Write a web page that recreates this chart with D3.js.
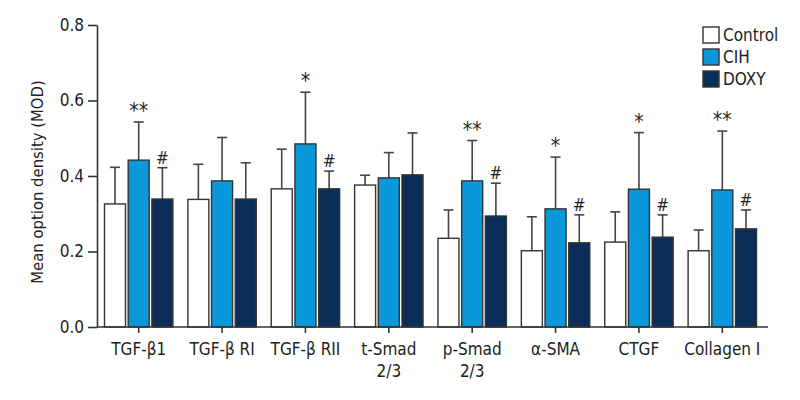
<!DOCTYPE html>
<html>
<head>
<meta charset="utf-8">
<script src="https://cdn.jsdelivr.net/npm/d3@7"></script>
<style>
  html, body { margin: 0; padding: 0; background: #fff; }
  svg text { font-family: "Liberation Sans Narrow", "DejaVu Sans Condensed", "Arial Narrow", sans-serif; fill: #222; }
</style>
</head>
<body>
<svg id="chart" width="800" height="400"></svg>
<script>
// ---- data ----
const categories = ["TGF-β1", "TGF-β RI", "TGF-β RII", "t-Smad\n2/3", "p-Smad\n2/3", "α-SMA", "CTGF", "Collagen I"];
const series = ["Control", "CIH", "DOXY"];
const controlMean = [0.326, 0.338, 0.366, 0.376, 0.235, 0.202, 0.225, 0.202];
const controlErr  = [0.423, 0.431, 0.471, 0.402, 0.310, 0.292, 0.305, 0.257];
const cihMean     = [0.442, 0.387, 0.485, 0.395, 0.387, 0.313, 0.365, 0.363];
const cihErr      = [0.543, 0.502, 0.622, 0.462, 0.494, 0.450, 0.515, 0.519];
const doxyMean    = [0.339, 0.339, 0.366, 0.403, 0.294, 0.223, 0.238, 0.260];
const doxyErr     = [0.422, 0.435, 0.413, 0.514, 0.381, 0.297, 0.297, 0.310];
const cihSig      = ["**", "", "*", "", "**", "*", "*", "**"];
const doxySig     = ["#", "", "#", "", "#", "#", "#", "#"];
const yTicks = [0.0, 0.2, 0.4, 0.6, 0.8];
const yTitle = "Mean option density (MOD)";
const colors = { Control: "#ffffff", CIH: "#0b98da", DOXY: "#0b2e58" };

const means = { Control: controlMean, CIH: cihMean, DOXY: doxyMean };
const errs  = { Control: controlErr,  CIH: cihErr,  DOXY: doxyErr };
const sigs  = { Control: null, CIH: cihSig, DOXY: doxySig };

// ---- layout ----
const svg = d3.select("#chart");
const yBottom = 327, yTop = 25;
const x0 = d3.scaleBand().domain(categories).range([97, 764]).paddingInner(0).paddingOuter(0);
const gc = x0.bandwidth() / 2;
const x1 = d3.scaleBand().domain(series).range([gc - 34.2, gc + 34.2]).paddingInner(0.114).paddingOuter(0);
const y = d3.scaleLinear().domain([0, 0.8]).range([yBottom, yTop]);

const axisColor = "#333";

const flat = [];
categories.forEach((c, i) => series.forEach(s => flat.push({ c, i, s, v: means[s][i], e: errs[s][i], sig: sigs[s] ? sigs[s][i] : "" })));

const gBars = svg.append("g");
const items = gBars.selectAll("g").data(flat).join("g")
  .attr("transform", d => `translate(${x0(d.c) + x1(d.s)},0)`);

// error bars (behind bars)
const bw = x1.bandwidth();
items.append("line")
  .attr("x1", bw / 2).attr("x2", bw / 2)
  .attr("y1", d => y(d.v)).attr("y2", d => y(d.e))
  .attr("stroke", "#444").attr("stroke-width", 1.6);
items.append("line")
  .attr("x1", bw / 2 - 5).attr("x2", bw / 2 + 5)
  .attr("y1", d => y(d.e)).attr("y2", d => y(d.e))
  .attr("stroke", "#444").attr("stroke-width", 1.6);

items.append("rect")
  .attr("x", 0).attr("width", bw)
  .attr("y", d => y(d.v)).attr("height", d => y(0) - y(d.v))
  .attr("fill", d => colors[d.s])
  .attr("stroke", "#333").attr("stroke-width", 1.4);

items.filter(d => d.sig).append("text")
  .attr("x", bw / 2).attr("y", d => y(d.e) - 4)
  .attr("text-anchor", "middle")
  .style("font-size", d => d.sig === "#" ? "17px" : "21px")
  .text(d => d.sig);

// y axis
const yAxis = d3.axisLeft(y).tickValues(yTicks).tickFormat(d3.format(".1f")).tickSize(9).tickSizeOuter(0).tickPadding(4);
const gy = svg.append("g").attr("transform", "translate(97,0)").call(yAxis);
gy.select(".domain").attr("stroke", axisColor).attr("stroke-width", 1.6);
gy.selectAll(".tick line").attr("stroke", axisColor).attr("stroke-width", 1.6);
gy.selectAll(".tick text").style("font-size", "17px").attr("fill", "#222");

// x axis
const xAxis = d3.axisBottom(x0).tickSize(6).tickSizeOuter(0).tickFormat("");
const gx = svg.append("g").attr("transform", `translate(0,${yBottom})`).call(xAxis);
gx.select(".domain").remove();
gx.selectAll(".tick line").attr("stroke", axisColor).attr("stroke-width", 1.6);
svg.append("line").attr("x1", 97).attr("x2", 768).attr("y1", yBottom).attr("y2", yBottom)
  .attr("stroke", axisColor).attr("stroke-width", 1.6);

gx.selectAll(".tick").each(function(d) {
  const t = d3.select(this).append("text")
    .attr("text-anchor", "middle").style("font-size", "17px").attr("fill", "#222");
  d.split("\n").forEach((line, k) => {
    t.append("tspan").attr("x", 0).attr("y", 28 + k * 22).text(line);
  });
});

// y title
svg.append("text")
  .attr("transform", `translate(43,${(yTop + yBottom) / 2 + 6}) rotate(-90)`)
  .attr("text-anchor", "middle")
  .style("font-size", "16.5px")
  .text(yTitle);

// legend
const lg = svg.append("g").attr("transform", "translate(703,27)");
const li = lg.selectAll("g").data(series).join("g")
  .attr("transform", (d, i) => `translate(0,${i * 22})`);
li.append("rect").attr("width", 16).attr("height", 16)
  .attr("fill", d => colors[d]).attr("stroke", "#333").attr("stroke-width", 1.4);
li.append("text").attr("x", 20).attr("y", 14).style("font-size", "17px").text(d => d);
</script>
</body>
</html>
